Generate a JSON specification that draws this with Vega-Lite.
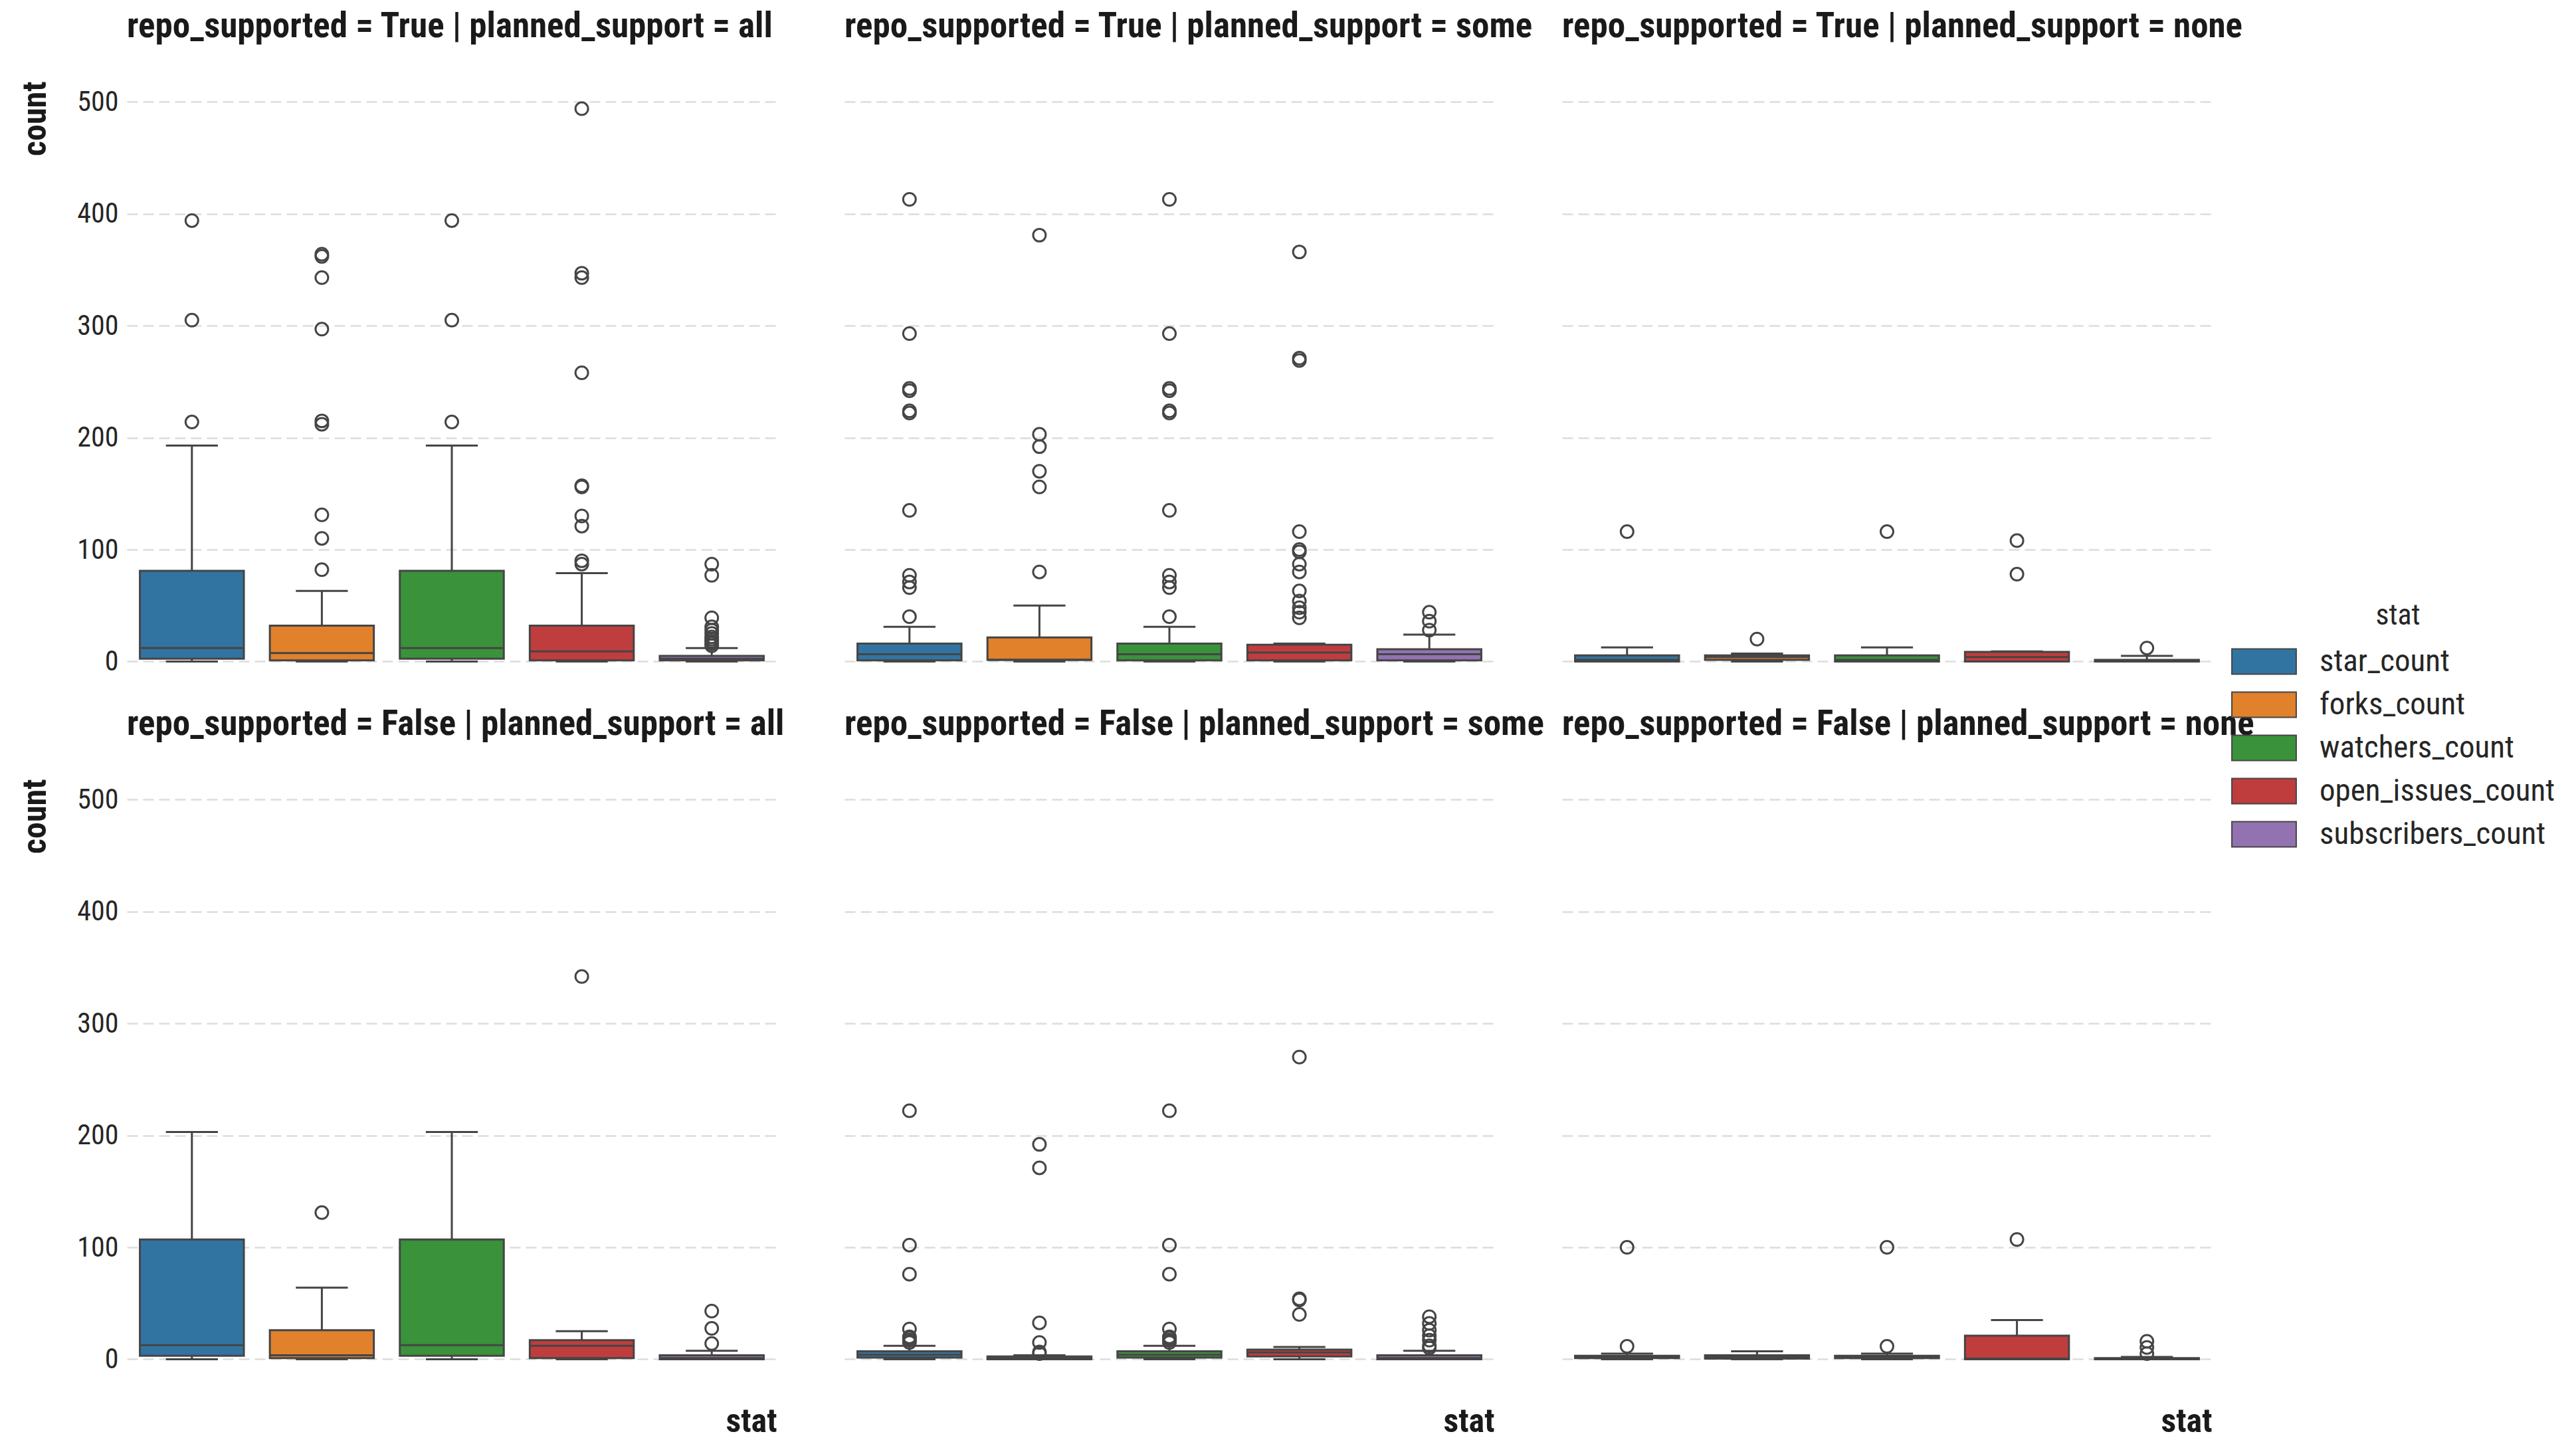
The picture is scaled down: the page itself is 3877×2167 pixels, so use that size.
{
  "$schema": "https://vega.github.io/schema/vega-lite/v6.json",
  "background": "white",
  "padding": {"left": 28, "top": 14, "right": 0, "bottom": 60},
  "bounds": "flush",
  "data": {"values": [
    {"panel": "repo_supported = True | planned_support = all", "stat": "star_count", "lower": 0, "q1": 2.5, "median": 12, "q3": 81, "upper": 193},
    {"panel": "repo_supported = True | planned_support = all", "stat": "forks_count", "lower": 0, "q1": 1, "median": 7.5, "q3": 32, "upper": 63},
    {"panel": "repo_supported = True | planned_support = all", "stat": "watchers_count", "lower": 0, "q1": 2.5, "median": 12, "q3": 81, "upper": 193},
    {"panel": "repo_supported = True | planned_support = all", "stat": "open_issues_count", "lower": 0, "q1": 1, "median": 9, "q3": 32, "upper": 79},
    {"panel": "repo_supported = True | planned_support = all", "stat": "subscribers_count", "lower": 0, "q1": 1, "median": 2.5, "q3": 5, "upper": 12},
    {"panel": "repo_supported = True | planned_support = some", "stat": "star_count", "lower": 0, "q1": 1, "median": 6.5, "q3": 16, "upper": 31},
    {"panel": "repo_supported = True | planned_support = some", "stat": "forks_count", "lower": 0, "q1": 1.5, "median": 1.5, "q3": 21.5, "upper": 50},
    {"panel": "repo_supported = True | planned_support = some", "stat": "watchers_count", "lower": 0, "q1": 1, "median": 6.5, "q3": 16, "upper": 31},
    {"panel": "repo_supported = True | planned_support = some", "stat": "open_issues_count", "lower": 0, "q1": 1, "median": 8, "q3": 15, "upper": 16},
    {"panel": "repo_supported = True | planned_support = some", "stat": "subscribers_count", "lower": 0, "q1": 1, "median": 6.5, "q3": 11, "upper": 24},
    {"panel": "repo_supported = True | planned_support = none", "stat": "star_count", "lower": 0, "q1": 0, "median": 1.5, "q3": 5.5, "upper": 12.5},
    {"panel": "repo_supported = True | planned_support = none", "stat": "forks_count", "lower": 0, "q1": 1.5, "median": 4, "q3": 5.5, "upper": 7},
    {"panel": "repo_supported = True | planned_support = none", "stat": "watchers_count", "lower": 0, "q1": 0, "median": 1.5, "q3": 5.5, "upper": 12.5},
    {"panel": "repo_supported = True | planned_support = none", "stat": "open_issues_count", "lower": 0, "q1": 0, "median": 4, "q3": 8.5, "upper": 9},
    {"panel": "repo_supported = True | planned_support = none", "stat": "subscribers_count", "lower": 0, "q1": 0, "median": 0.5, "q3": 1.5, "upper": 5},
    {"panel": "repo_supported = False | planned_support = all", "stat": "star_count", "lower": 0, "q1": 3, "median": 12.5, "q3": 107, "upper": 203},
    {"panel": "repo_supported = False | planned_support = all", "stat": "forks_count", "lower": 0, "q1": 1, "median": 3.5, "q3": 26, "upper": 64},
    {"panel": "repo_supported = False | planned_support = all", "stat": "watchers_count", "lower": 0, "q1": 3, "median": 12.5, "q3": 107, "upper": 203},
    {"panel": "repo_supported = False | planned_support = all", "stat": "open_issues_count", "lower": 0, "q1": 1, "median": 12, "q3": 17, "upper": 25},
    {"panel": "repo_supported = False | planned_support = all", "stat": "subscribers_count", "lower": 0, "q1": 0, "median": 1, "q3": 3.5, "upper": 7.5},
    {"panel": "repo_supported = False | planned_support = some", "stat": "star_count", "lower": 0, "q1": 1.5, "median": 4, "q3": 7, "upper": 12},
    {"panel": "repo_supported = False | planned_support = some", "stat": "forks_count", "lower": 0, "q1": 0, "median": 1, "q3": 2.5, "upper": 3.5},
    {"panel": "repo_supported = False | planned_support = some", "stat": "watchers_count", "lower": 0, "q1": 1.5, "median": 4, "q3": 7, "upper": 12},
    {"panel": "repo_supported = False | planned_support = some", "stat": "open_issues_count", "lower": 0, "q1": 2.5, "median": 6, "q3": 8.5, "upper": 11},
    {"panel": "repo_supported = False | planned_support = some", "stat": "subscribers_count", "lower": 0, "q1": 0, "median": 1, "q3": 3.5, "upper": 7.5},
    {"panel": "repo_supported = False | planned_support = none", "stat": "star_count", "lower": 0, "q1": 1, "median": 2, "q3": 3, "upper": 5},
    {"panel": "repo_supported = False | planned_support = none", "stat": "forks_count", "lower": 0, "q1": 0.5, "median": 2, "q3": 3.5, "upper": 7},
    {"panel": "repo_supported = False | planned_support = none", "stat": "watchers_count", "lower": 0, "q1": 1, "median": 2, "q3": 3, "upper": 5},
    {"panel": "repo_supported = False | planned_support = none", "stat": "open_issues_count", "lower": 0, "q1": 0, "median": 0.5, "q3": 21, "upper": 35},
    {"panel": "repo_supported = False | planned_support = none", "stat": "subscribers_count", "lower": 0, "q1": 0, "median": 0.5, "q3": 1, "upper": 2},

    {"panel": "repo_supported = True | planned_support = all", "stat": "star_count", "value": 214},
    {"panel": "repo_supported = True | planned_support = all", "stat": "star_count", "value": 305},
    {"panel": "repo_supported = True | planned_support = all", "stat": "star_count", "value": 394},
    {"panel": "repo_supported = True | planned_support = all", "stat": "forks_count", "value": 82},
    {"panel": "repo_supported = True | planned_support = all", "stat": "forks_count", "value": 110},
    {"panel": "repo_supported = True | planned_support = all", "stat": "forks_count", "value": 131},
    {"panel": "repo_supported = True | planned_support = all", "stat": "forks_count", "value": 212},
    {"panel": "repo_supported = True | planned_support = all", "stat": "forks_count", "value": 215},
    {"panel": "repo_supported = True | planned_support = all", "stat": "forks_count", "value": 297},
    {"panel": "repo_supported = True | planned_support = all", "stat": "forks_count", "value": 343},
    {"panel": "repo_supported = True | planned_support = all", "stat": "forks_count", "value": 362},
    {"panel": "repo_supported = True | planned_support = all", "stat": "forks_count", "value": 364},
    {"panel": "repo_supported = True | planned_support = all", "stat": "watchers_count", "value": 214},
    {"panel": "repo_supported = True | planned_support = all", "stat": "watchers_count", "value": 305},
    {"panel": "repo_supported = True | planned_support = all", "stat": "watchers_count", "value": 394},
    {"panel": "repo_supported = True | planned_support = all", "stat": "open_issues_count", "value": 87},
    {"panel": "repo_supported = True | planned_support = all", "stat": "open_issues_count", "value": 90},
    {"panel": "repo_supported = True | planned_support = all", "stat": "open_issues_count", "value": 121},
    {"panel": "repo_supported = True | planned_support = all", "stat": "open_issues_count", "value": 130},
    {"panel": "repo_supported = True | planned_support = all", "stat": "open_issues_count", "value": 156},
    {"panel": "repo_supported = True | planned_support = all", "stat": "open_issues_count", "value": 157},
    {"panel": "repo_supported = True | planned_support = all", "stat": "open_issues_count", "value": 258},
    {"panel": "repo_supported = True | planned_support = all", "stat": "open_issues_count", "value": 343},
    {"panel": "repo_supported = True | planned_support = all", "stat": "open_issues_count", "value": 347},
    {"panel": "repo_supported = True | planned_support = all", "stat": "open_issues_count", "value": 494},
    {"panel": "repo_supported = True | planned_support = all", "stat": "subscribers_count", "value": 14},
    {"panel": "repo_supported = True | planned_support = all", "stat": "subscribers_count", "value": 16},
    {"panel": "repo_supported = True | planned_support = all", "stat": "subscribers_count", "value": 18},
    {"panel": "repo_supported = True | planned_support = all", "stat": "subscribers_count", "value": 20},
    {"panel": "repo_supported = True | planned_support = all", "stat": "subscribers_count", "value": 22},
    {"panel": "repo_supported = True | planned_support = all", "stat": "subscribers_count", "value": 25},
    {"panel": "repo_supported = True | planned_support = all", "stat": "subscribers_count", "value": 28},
    {"panel": "repo_supported = True | planned_support = all", "stat": "subscribers_count", "value": 31},
    {"panel": "repo_supported = True | planned_support = all", "stat": "subscribers_count", "value": 39},
    {"panel": "repo_supported = True | planned_support = all", "stat": "subscribers_count", "value": 77},
    {"panel": "repo_supported = True | planned_support = all", "stat": "subscribers_count", "value": 87},

    {"panel": "repo_supported = True | planned_support = some", "stat": "star_count", "value": 40},
    {"panel": "repo_supported = True | planned_support = some", "stat": "star_count", "value": 66},
    {"panel": "repo_supported = True | planned_support = some", "stat": "star_count", "value": 71},
    {"panel": "repo_supported = True | planned_support = some", "stat": "star_count", "value": 77},
    {"panel": "repo_supported = True | planned_support = some", "stat": "star_count", "value": 135},
    {"panel": "repo_supported = True | planned_support = some", "stat": "star_count", "value": 222},
    {"panel": "repo_supported = True | planned_support = some", "stat": "star_count", "value": 224},
    {"panel": "repo_supported = True | planned_support = some", "stat": "star_count", "value": 242},
    {"panel": "repo_supported = True | planned_support = some", "stat": "star_count", "value": 244},
    {"panel": "repo_supported = True | planned_support = some", "stat": "star_count", "value": 293},
    {"panel": "repo_supported = True | planned_support = some", "stat": "star_count", "value": 413},
    {"panel": "repo_supported = True | planned_support = some", "stat": "forks_count", "value": 80},
    {"panel": "repo_supported = True | planned_support = some", "stat": "forks_count", "value": 156},
    {"panel": "repo_supported = True | planned_support = some", "stat": "forks_count", "value": 170},
    {"panel": "repo_supported = True | planned_support = some", "stat": "forks_count", "value": 192},
    {"panel": "repo_supported = True | planned_support = some", "stat": "forks_count", "value": 203},
    {"panel": "repo_supported = True | planned_support = some", "stat": "forks_count", "value": 381},
    {"panel": "repo_supported = True | planned_support = some", "stat": "watchers_count", "value": 40},
    {"panel": "repo_supported = True | planned_support = some", "stat": "watchers_count", "value": 66},
    {"panel": "repo_supported = True | planned_support = some", "stat": "watchers_count", "value": 71},
    {"panel": "repo_supported = True | planned_support = some", "stat": "watchers_count", "value": 77},
    {"panel": "repo_supported = True | planned_support = some", "stat": "watchers_count", "value": 135},
    {"panel": "repo_supported = True | planned_support = some", "stat": "watchers_count", "value": 222},
    {"panel": "repo_supported = True | planned_support = some", "stat": "watchers_count", "value": 224},
    {"panel": "repo_supported = True | planned_support = some", "stat": "watchers_count", "value": 242},
    {"panel": "repo_supported = True | planned_support = some", "stat": "watchers_count", "value": 244},
    {"panel": "repo_supported = True | planned_support = some", "stat": "watchers_count", "value": 293},
    {"panel": "repo_supported = True | planned_support = some", "stat": "watchers_count", "value": 413},
    {"panel": "repo_supported = True | planned_support = some", "stat": "open_issues_count", "value": 39},
    {"panel": "repo_supported = True | planned_support = some", "stat": "open_issues_count", "value": 44},
    {"panel": "repo_supported = True | planned_support = some", "stat": "open_issues_count", "value": 48},
    {"panel": "repo_supported = True | planned_support = some", "stat": "open_issues_count", "value": 54},
    {"panel": "repo_supported = True | planned_support = some", "stat": "open_issues_count", "value": 63},
    {"panel": "repo_supported = True | planned_support = some", "stat": "open_issues_count", "value": 80},
    {"panel": "repo_supported = True | planned_support = some", "stat": "open_issues_count", "value": 87},
    {"panel": "repo_supported = True | planned_support = some", "stat": "open_issues_count", "value": 98},
    {"panel": "repo_supported = True | planned_support = some", "stat": "open_issues_count", "value": 100},
    {"panel": "repo_supported = True | planned_support = some", "stat": "open_issues_count", "value": 116},
    {"panel": "repo_supported = True | planned_support = some", "stat": "open_issues_count", "value": 269},
    {"panel": "repo_supported = True | planned_support = some", "stat": "open_issues_count", "value": 271},
    {"panel": "repo_supported = True | planned_support = some", "stat": "open_issues_count", "value": 366},
    {"panel": "repo_supported = True | planned_support = some", "stat": "subscribers_count", "value": 28},
    {"panel": "repo_supported = True | planned_support = some", "stat": "subscribers_count", "value": 36},
    {"panel": "repo_supported = True | planned_support = some", "stat": "subscribers_count", "value": 44},

    {"panel": "repo_supported = True | planned_support = none", "stat": "star_count", "value": 116},
    {"panel": "repo_supported = True | planned_support = none", "stat": "forks_count", "value": 20},
    {"panel": "repo_supported = True | planned_support = none", "stat": "watchers_count", "value": 116},
    {"panel": "repo_supported = True | planned_support = none", "stat": "open_issues_count", "value": 78},
    {"panel": "repo_supported = True | planned_support = none", "stat": "open_issues_count", "value": 108},
    {"panel": "repo_supported = True | planned_support = none", "stat": "subscribers_count", "value": 12},

    {"panel": "repo_supported = False | planned_support = all", "stat": "forks_count", "value": 131},
    {"panel": "repo_supported = False | planned_support = all", "stat": "open_issues_count", "value": 342},
    {"panel": "repo_supported = False | planned_support = all", "stat": "subscribers_count", "value": 14},
    {"panel": "repo_supported = False | planned_support = all", "stat": "subscribers_count", "value": 27.5},
    {"panel": "repo_supported = False | planned_support = all", "stat": "subscribers_count", "value": 43},

    {"panel": "repo_supported = False | planned_support = some", "stat": "star_count", "value": 15},
    {"panel": "repo_supported = False | planned_support = some", "stat": "star_count", "value": 17},
    {"panel": "repo_supported = False | planned_support = some", "stat": "star_count", "value": 19},
    {"panel": "repo_supported = False | planned_support = some", "stat": "star_count", "value": 20},
    {"panel": "repo_supported = False | planned_support = some", "stat": "star_count", "value": 27},
    {"panel": "repo_supported = False | planned_support = some", "stat": "star_count", "value": 76},
    {"panel": "repo_supported = False | planned_support = some", "stat": "star_count", "value": 102},
    {"panel": "repo_supported = False | planned_support = some", "stat": "star_count", "value": 222},
    {"panel": "repo_supported = False | planned_support = some", "stat": "forks_count", "value": 5},
    {"panel": "repo_supported = False | planned_support = some", "stat": "forks_count", "value": 6.5},
    {"panel": "repo_supported = False | planned_support = some", "stat": "forks_count", "value": 15},
    {"panel": "repo_supported = False | planned_support = some", "stat": "forks_count", "value": 32.5},
    {"panel": "repo_supported = False | planned_support = some", "stat": "forks_count", "value": 171},
    {"panel": "repo_supported = False | planned_support = some", "stat": "forks_count", "value": 192},
    {"panel": "repo_supported = False | planned_support = some", "stat": "watchers_count", "value": 15},
    {"panel": "repo_supported = False | planned_support = some", "stat": "watchers_count", "value": 17},
    {"panel": "repo_supported = False | planned_support = some", "stat": "watchers_count", "value": 19},
    {"panel": "repo_supported = False | planned_support = some", "stat": "watchers_count", "value": 20},
    {"panel": "repo_supported = False | planned_support = some", "stat": "watchers_count", "value": 27},
    {"panel": "repo_supported = False | planned_support = some", "stat": "watchers_count", "value": 76},
    {"panel": "repo_supported = False | planned_support = some", "stat": "watchers_count", "value": 102},
    {"panel": "repo_supported = False | planned_support = some", "stat": "watchers_count", "value": 222},
    {"panel": "repo_supported = False | planned_support = some", "stat": "open_issues_count", "value": 40},
    {"panel": "repo_supported = False | planned_support = some", "stat": "open_issues_count", "value": 53},
    {"panel": "repo_supported = False | planned_support = some", "stat": "open_issues_count", "value": 54},
    {"panel": "repo_supported = False | planned_support = some", "stat": "open_issues_count", "value": 270},
    {"panel": "repo_supported = False | planned_support = some", "stat": "subscribers_count", "value": 10},
    {"panel": "repo_supported = False | planned_support = some", "stat": "subscribers_count", "value": 12},
    {"panel": "repo_supported = False | planned_support = some", "stat": "subscribers_count", "value": 17},
    {"panel": "repo_supported = False | planned_support = some", "stat": "subscribers_count", "value": 21},
    {"panel": "repo_supported = False | planned_support = some", "stat": "subscribers_count", "value": 26},
    {"panel": "repo_supported = False | planned_support = some", "stat": "subscribers_count", "value": 32},
    {"panel": "repo_supported = False | planned_support = some", "stat": "subscribers_count", "value": 38},

    {"panel": "repo_supported = False | planned_support = none", "stat": "star_count", "value": 11.5},
    {"panel": "repo_supported = False | planned_support = none", "stat": "star_count", "value": 100},
    {"panel": "repo_supported = False | planned_support = none", "stat": "watchers_count", "value": 11.5},
    {"panel": "repo_supported = False | planned_support = none", "stat": "watchers_count", "value": 100},
    {"panel": "repo_supported = False | planned_support = none", "stat": "open_issues_count", "value": 107},
    {"panel": "repo_supported = False | planned_support = none", "stat": "subscribers_count", "value": 5},
    {"panel": "repo_supported = False | planned_support = none", "stat": "subscribers_count", "value": 10.5},
    {"panel": "repo_supported = False | planned_support = none", "stat": "subscribers_count", "value": 16}
  ]},
  "facet": {
    "field": "panel",
    "type": "nominal",
    "sort": [
      "repo_supported = True | planned_support = all",
      "repo_supported = True | planned_support = some",
      "repo_supported = True | planned_support = none",
      "repo_supported = False | planned_support = all",
      "repo_supported = False | planned_support = some",
      "repo_supported = False | planned_support = none"
    ],
    "header": {
      "title": null,
      "labelFontSize": 53,
      "labelFontWeight": "bold",
      "labelColor": "#1a1a1a",
      "labelAnchor": "start",
      "labelAlign": "left",
      "labelBaseline": "alphabetic",
      "labelPadding": 13,
      "labelLimit": 0
    }
  },
  "columns": 3,
  "spacing": {"row": 135, "column": 102},
  "spec": {
    "width": 978,
    "height": 915,
    "layer": [
      {
        "transform": [{"filter": "isValid(datum.median)"}],
        "mark": {"type": "rule", "color": "#454545", "strokeWidth": 3},
        "encoding": {
          "x": {"field": "stat", "type": "nominal", "sort": ["star_count", "forks_count", "watchers_count", "open_issues_count", "subscribers_count"], "scale": {"paddingInner": 0, "paddingOuter": 0}, "title": "stat"},
          "y": {"field": "lower", "type": "quantitative", "title": "count", "scale": {"domain": [-24.7, 518.7], "nice": false, "zero": false}, "axis": {"values": [0, 100, 200, 300, 400, 500]}},
          "y2": {"field": "upper"}
        }
      },
      {
        "transform": [{"filter": "isValid(datum.median)"}],
        "mark": {"type": "bar", "width": {"band": 0.8}, "stroke": "#454545", "strokeWidth": 3},
        "encoding": {
          "x": {"field": "stat", "type": "nominal", "sort": ["star_count", "forks_count", "watchers_count", "open_issues_count", "subscribers_count"], "scale": {"paddingInner": 0, "paddingOuter": 0}, "title": "stat"},
          "y": {"field": "q1", "type": "quantitative", "title": "count"},
          "y2": {"field": "q3"},
          "color": {
            "field": "stat", "type": "nominal", "title": "stat",
            "sort": ["star_count", "forks_count", "watchers_count", "open_issues_count", "subscribers_count"],
            "scale": {"domain": ["star_count", "forks_count", "watchers_count", "open_issues_count", "subscribers_count"], "range": ["#3274a1", "#e1812c", "#3a923a", "#c03d3e", "#9372b2"]}
          }
        }
      },
      {
        "transform": [{"filter": "isValid(datum.median)"}],
        "mark": {"type": "bar", "width": {"band": 0.8}, "fillOpacity": 0, "stroke": "#454545", "strokeWidth": 3},
        "encoding": {
          "x": {"field": "stat", "type": "nominal", "sort": ["star_count", "forks_count", "watchers_count", "open_issues_count", "subscribers_count"], "scale": {"paddingInner": 0, "paddingOuter": 0}, "title": "stat"},
          "y": {"field": "median", "type": "quantitative", "title": "count"},
          "y2": {"field": "median"}
        }
      },
      {
        "transform": [{"filter": "isValid(datum.median)"}],
        "mark": {"type": "bar", "width": {"band": 0.4}, "fillOpacity": 0, "stroke": "#454545", "strokeWidth": 3},
        "encoding": {
          "x": {"field": "stat", "type": "nominal", "sort": ["star_count", "forks_count", "watchers_count", "open_issues_count", "subscribers_count"], "scale": {"paddingInner": 0, "paddingOuter": 0}, "title": "stat"},
          "y": {"field": "upper", "type": "quantitative", "title": "count"},
          "y2": {"field": "upper"}
        }
      },
      {
        "transform": [{"filter": "isValid(datum.median)"}],
        "mark": {"type": "bar", "width": {"band": 0.4}, "fillOpacity": 0, "stroke": "#454545", "strokeWidth": 3},
        "encoding": {
          "x": {"field": "stat", "type": "nominal", "sort": ["star_count", "forks_count", "watchers_count", "open_issues_count", "subscribers_count"], "scale": {"paddingInner": 0, "paddingOuter": 0}, "title": "stat"},
          "y": {"field": "lower", "type": "quantitative", "title": "count"},
          "y2": {"field": "lower"}
        }
      },
      {
        "transform": [{"filter": "isValid(datum.value)"}],
        "mark": {"type": "point", "shape": "circle", "filled": false, "stroke": "#454545", "strokeWidth": 3, "size": 360, "opacity": 1},
        "encoding": {
          "x": {"field": "stat", "type": "nominal", "sort": ["star_count", "forks_count", "watchers_count", "open_issues_count", "subscribers_count"], "scale": {"paddingInner": 0, "paddingOuter": 0}, "title": "stat"},
          "y": {"field": "value", "type": "quantitative", "title": "count"}
        }
      }
    ]
  },
  "config": {
    "font": "Roboto Condensed, Liberation Sans Narrow, DejaVu Sans Condensed, Roboto, sans-serif",
    "view": {"stroke": null},
    "axisY": {
      "grid": true,
      "gridColor": "#dddddd",
      "gridDash": [16, 8],
      "gridWidth": 2.5,
      "domain": false,
      "ticks": false,
      "labelFontSize": 42,
      "labelColor": "#262626",
      "labelPadding": 13,
      "titleFontSize": 50,
      "titleFontWeight": "bold",
      "titleColor": "#1a1a1a",
      "titleAnchor": "end",
      "titlePadding": 37
    },
    "axisX": {
      "grid": false,
      "domain": false,
      "ticks": false,
      "labels": false,
      "titleFontSize": 50,
      "titleFontWeight": "bold",
      "titleColor": "#1a1a1a",
      "titleAnchor": "end",
      "titlePadding": 27
    },
    "legend": {
      "orient": "none",
      "legendX": 3182,
      "legendY": 783,
      "titleFontSize": 44,
      "titleFontWeight": "normal",
      "titleColor": "#262626",
      "titleAnchor": "middle",
      "titlePadding": 12,
      "labelFontSize": 47,
      "labelColor": "#262626",
      "labelOffset": 49,
      "labelLimit": 0,
      "rowPadding": 7,
      "symbolType": "M-1.45,-0.57H1.45V0.57H-1.45Z",
      "symbolSize": 4462,
      "symbolStrokeColor": "#454545",
      "symbolStrokeWidth": 2,
      "symbolOpacity": 1
    }
  }
}
